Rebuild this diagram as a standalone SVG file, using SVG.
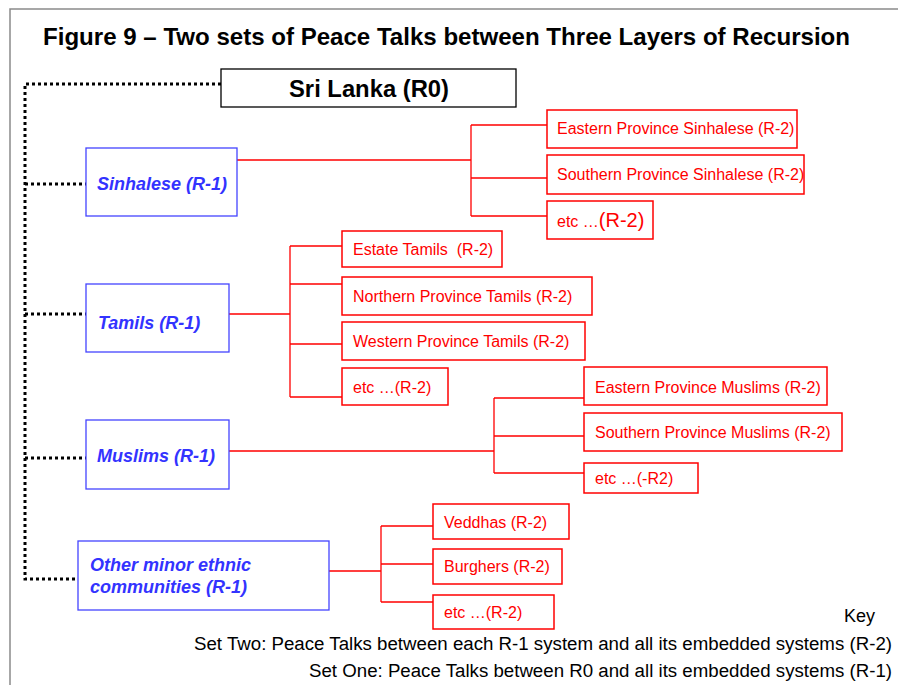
<svg xmlns="http://www.w3.org/2000/svg" width="898" height="685" viewBox="0 0 898 685">
<style>
.frame{fill:none;stroke:#8a8a8a;stroke-width:1.5}
.dot{fill:none;stroke:#000;stroke-width:3;stroke-dasharray:3 3}
.red{fill:none;stroke:#ff0000;stroke-width:1.3}
.rbox{fill:#fff;stroke:#ff0000;stroke-width:1.5}
.bbox{fill:#fff;stroke:#4444ff;stroke-width:1.3}
.kbox{fill:#fff;stroke:#000;stroke-width:1.3}
.rt{font-family:"Liberation Sans",Arial,sans-serif;font-size:16px;fill:#ff0000}
.bt{font-family:"Liberation Sans",Arial,sans-serif;font-size:18px;font-weight:bold;font-style:italic;fill:#3333ff}
.kt{font-family:"Liberation Sans",Arial,sans-serif;font-size:18px;fill:#000}
.title{font-family:"Liberation Sans",Arial,sans-serif;font-size:24px;font-weight:bold;fill:#000}
</style>
<rect width="898" height="685" fill="#fff"/>
<path class="frame" d="M10,685 V9 H898"/>
<text class="title" x="43" y="45" textLength="807" lengthAdjust="spacingAndGlyphs">Figure 9 – Two sets of Peace Talks between Three Layers of Recursion</text>

<g id="connectors">
  <path class="dot" d="M221,84 H25 V579 H78"/>
  <path class="dot" d="M25,184 H86"/>
  <path class="dot" d="M25,314 H86"/>
  <path class="dot" d="M25,458 H86"/>
  <path class="red" d="M237,160 H471 M471,125 V216 M471,125 H547 M471,178 H547 M471,216 H547"/>
  <path class="red" d="M229,314 H290 M290,246 V397 M290,246 H342 M290,284 H342 M290,344 H342 M290,397 H342"/>
  <path class="red" d="M229,451 H494 M494,398 V473 M494,398 H584 M494,436 H584 M494,473 H584"/>
  <path class="red" d="M329,571 H381 M381,526 V602 M381,526 H433 M381,564 H433 M381,602 H433"/>
</g>

<g id="srilanka">
  <rect class="kbox" x="221" y="69" width="295" height="38"/>
  <text x="369" y="97" text-anchor="middle" font-family="Liberation Sans, Arial, sans-serif" font-size="23" font-weight="bold" textLength="160" lengthAdjust="spacingAndGlyphs">Sri Lanka (R0)</text>
</g>

<g id="sinhalese">
  <rect class="bbox" x="86" y="148" width="151" height="68"/>
  <text class="bt" x="97" y="190">Sinhalese (R-1)</text>
</g>
<g id="tamils">
  <rect class="bbox" x="86" y="284" width="143" height="68"/>
  <text class="bt" x="98" y="329">Tamils (R-1)</text>
</g>
<g id="muslims">
  <rect class="bbox" x="86" y="420" width="143" height="69"/>
  <text class="bt" x="97" y="462">Muslims (R-1)</text>
</g>
<g id="other">
  <rect class="bbox" x="78" y="541" width="251" height="69"/>
  <text class="bt" x="90" y="571">Other minor ethnic</text>
  <text class="bt" x="90" y="593">communities (R-1)</text>
</g>

<g id="eastern-sinhalese">
  <rect class="rbox" x="547" y="110" width="250" height="38"/>
  <text class="rt" x="557" y="134">Eastern Province Sinhalese (R-2)</text>
</g>
<g id="southern-sinhalese">
  <rect class="rbox" x="547" y="155" width="257" height="39"/>
  <text class="rt" x="557" y="180">Southern Province Sinhalese (R-2)</text>
</g>
<g id="etc-sinhalese">
  <rect class="rbox" x="547" y="201" width="106" height="38"/>
  <text class="rt" x="557" y="227">etc …<tspan font-size="20">(R-2)</tspan></text>
</g>

<g id="estate-tamils">
  <rect class="rbox" x="342" y="231" width="160" height="36"/>
  <text class="rt" x="353" y="255" xml:space="preserve">Estate Tamils  (R-2)</text>
</g>
<g id="northern-tamils">
  <rect class="rbox" x="342" y="277" width="250" height="38"/>
  <text class="rt" x="353" y="302">Northern Province Tamils (R-2)</text>
</g>
<g id="western-tamils">
  <rect class="rbox" x="342" y="322" width="243" height="38"/>
  <text class="rt" x="353" y="347">Western Province Tamils (R-2)</text>
</g>
<g id="etc-tamils">
  <rect class="rbox" x="342" y="368" width="106" height="37"/>
  <text class="rt" x="353" y="393">etc …(R-2)</text>
</g>

<g id="eastern-muslims">
  <rect class="rbox" x="584" y="367" width="243" height="38"/>
  <text class="rt" x="595" y="393">Eastern Province Muslims (R-2)</text>
</g>
<g id="southern-muslims">
  <rect class="rbox" x="584" y="413" width="258" height="38"/>
  <text class="rt" x="595" y="438">Southern Province Muslims (R-2)</text>
</g>
<g id="etc-muslims">
  <rect class="rbox" x="584" y="463" width="114" height="30"/>
  <text class="rt" x="595" y="484">etc …(-R2)</text>
</g>

<g id="veddhas">
  <rect class="rbox" x="433" y="504" width="136" height="35"/>
  <text class="rt" x="444" y="528">Veddhas (R-2)</text>
</g>
<g id="burghers">
  <rect class="rbox" x="433" y="549" width="129" height="35"/>
  <text class="rt" x="444" y="572">Burghers (R-2)</text>
</g>
<g id="etc-other">
  <rect class="rbox" x="433" y="595" width="121" height="34"/>
  <text class="rt" x="444" y="618">etc …(R-2)</text>
</g>

<g id="key">
  <text class="kt" x="844" y="622">Key</text>
  <text class="kt" x="194" y="650" textLength="698" lengthAdjust="spacingAndGlyphs">Set Two: Peace Talks between each R-1 system and all its embedded systems (R-2)</text>
  <text class="kt" x="309" y="677" textLength="583" lengthAdjust="spacingAndGlyphs">Set One: Peace Talks between R0 and all its embedded systems (R-1)</text>
</g>
</svg>
